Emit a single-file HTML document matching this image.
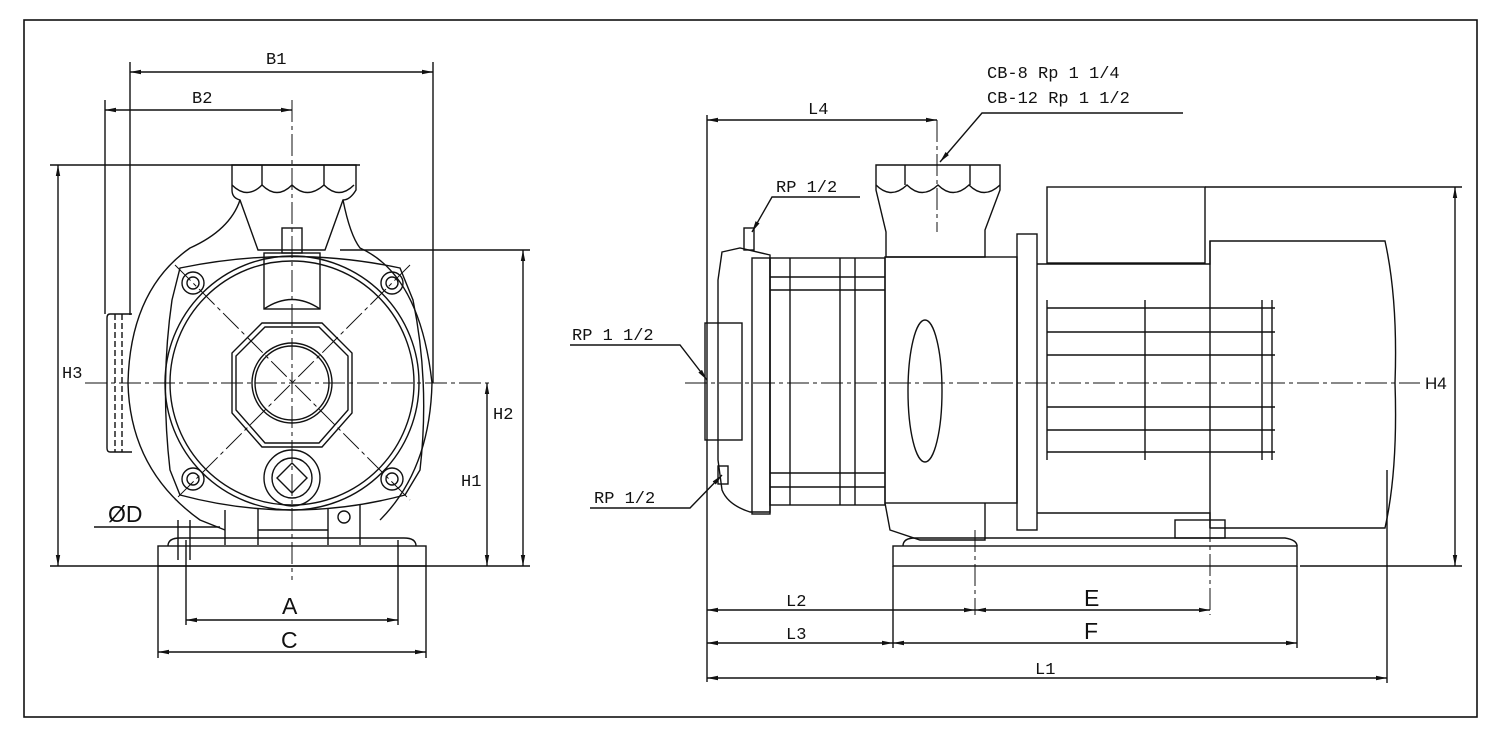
<!DOCTYPE html>
<html><head><meta charset="utf-8"><style>
html,body{margin:0;padding:0;background:#fff}
svg{display:block}
text{font-family:"Liberation Mono",monospace;font-size:17px;fill:#111;stroke:none}
.s{font-family:"Liberation Sans",sans-serif;font-size:23px}
.l{font-family:"Liberation Sans",sans-serif;font-size:17px}
</style></head><body>
<svg width="1500" height="740" viewBox="0 0 1500 740" xmlns="http://www.w3.org/2000/svg" fill="none" stroke="#111" stroke-width="1.4">
<rect x="24" y="20" width="1453" height="697" stroke-width="1.6"/>
<defs><marker id="a" viewBox="0 0 10 10" refX="10" refY="5" markerWidth="8" markerHeight="8" orient="auto-start-reverse"><path d="M0,3 L10,5 L0,7z" fill="#111" stroke="none"/></marker></defs>
<g stroke-dasharray="22,4,4,4" stroke-width="1">
<line x1="85" y1="383" x2="492" y2="383"/><line x1="292" y1="100" x2="292" y2="580"/>
<line x1="175" y1="265" x2="410" y2="500"/><line x1="410" y1="265" x2="175" y2="500"/>
<line x1="685" y1="383" x2="1420" y2="383"/><line x1="937" y1="120" x2="937" y2="232"/>
<line x1="975" y1="530" x2="975" y2="615"/><line x1="1210" y1="520" x2="1210" y2="615"/>
</g>
<!-- LEFT VIEW -->
<path d="M232,165 H356 V190 Q350,200 343,200 L325,250 H258 L240,200 Q232,198 232,190Z"/>
<path d="M232,185 q15,15 30,0 q15,15 30,0 q15,15 32,0 q15,15 30,0"/>
<line x1="262" y1="165" x2="262" y2="185"/><line x1="324" y1="165" x2="324" y2="185"/>
<path d="M240,200 Q230,230 190,248 Q130,290 128,383 Q130,470 200,520 L225,530"/>
<path d="M343,200 Q350,235 360,248 Q420,275 432,383 Q430,470 380,520"/>
<circle cx="292" cy="383" r="127"/><circle cx="292" cy="383" r="122"/>
<path d="M180,268 Q292,245 400,268 L413,300 Q430,383 420,470 L405,495 Q292,525 180,495 L170,470 Q160,383 172,300Z"/>
<rect x="264" y="253" width="56" height="56"/><rect x="282" y="228" width="20" height="25"/>
<path d="M264,309 Q292,290 320,309"/>
<polygon points="262,323 322,323 352,353 352,413 322,447 262,447 232,413 232,353"/>
<polygon points="265,327 319,327 348,356 348,410 319,443 265,443 236,410 236,356"/>
<circle cx="292" cy="383" r="40"/><circle cx="292" cy="383" r="37"/>
<circle cx="292" cy="478" r="28"/><circle cx="292" cy="478" r="20"/>
<polygon points="292,463 307,478 292,493 277,478"/>
<g><circle cx="193" cy="283" r="11"/><circle cx="193" cy="283" r="6"/><circle cx="392" cy="283" r="11"/><circle cx="392" cy="283" r="6"/><circle cx="193" cy="479" r="11"/><circle cx="193" cy="479" r="6"/><circle cx="392" cy="479" r="11"/><circle cx="392" cy="479" r="6"/></g>
<path d="M132,314 H110 Q107,314 107,318 V448 Q107,452 110,452 H132"/><line x1="115" y1="314" x2="115" y2="452" stroke-dasharray="6,3"/><line x1="122" y1="314" x2="122" y2="452" stroke-dasharray="6,3"/>
<path d="M225,510 V545 M258,508 V545 M328,508 V545 M360,505 V545 M258,530 H328"/>
<circle cx="344" cy="517" r="6"/>
<path d="M168,546 Q168,538 180,538 H404 Q416,538 416,546"/>
<rect x="158" y="546" width="268" height="20"/>
<!-- left dims -->
<line x1="130" y1="62" x2="130" y2="315"/><line x1="433" y1="62" x2="433" y2="383"/>
<line x1="105" y1="100" x2="105" y2="314"/>
<line x1="130" y1="72" x2="433" y2="72" marker-start="url(#a)" marker-end="url(#a)"/>
<line x1="105" y1="110" x2="292" y2="110" marker-start="url(#a)" marker-end="url(#a)"/>
<line x1="50" y1="165" x2="360" y2="165"/><line x1="50" y1="566" x2="530" y2="566"/>
<line x1="58" y1="165" x2="58" y2="566" marker-start="url(#a)" marker-end="url(#a)"/>
<line x1="340" y1="250" x2="530" y2="250"/>
<line x1="523" y1="250" x2="523" y2="566" marker-start="url(#a)" marker-end="url(#a)"/>
<line x1="487" y1="383" x2="487" y2="566" marker-start="url(#a)" marker-end="url(#a)"/>
<line x1="186" y1="540" x2="186" y2="625"/><line x1="398" y1="540" x2="398" y2="625"/>
<line x1="158" y1="566" x2="158" y2="658"/><line x1="426" y1="566" x2="426" y2="658"/>
<line x1="186" y1="620" x2="398" y2="620" marker-start="url(#a)" marker-end="url(#a)"/>
<line x1="158" y1="652" x2="426" y2="652" marker-start="url(#a)" marker-end="url(#a)"/>
<line x1="94" y1="527" x2="220" y2="527"/><line x1="178" y1="520" x2="178" y2="560"/><line x1="190" y1="520" x2="190" y2="560"/>
<text x="266" y="64">B1</text><text x="192" y="103">B2</text>
<text x="62" y="378">H3</text><text x="493" y="419">H2</text><text x="461" y="486">H1</text>
<text class="s" x="282" y="614">A</text><text class="s" x="281" y="648">C</text><text class="s" x="108" y="522">ØD</text>
<!-- RIGHT VIEW -->
<path d="M876,165 H1000 V190 L985,230 L985,257 H886 V232 L876,190Z"/>
<path d="M876,185 q15,15 31,0 q15,15 31,0 q15,15 31,0 q15,15 31,0"/>
<line x1="905" y1="165" x2="905" y2="185"/><line x1="970" y1="165" x2="970" y2="185"/>
<path d="M722,252 L740,248 L770,255 V512 L750,512 Q728,505 722,490 L718,460 V280Z"/>
<rect x="705" y="323" width="37" height="117"/>
<rect x="752" y="258" width="18" height="256"/>
<rect x="770" y="258" width="115" height="247"/>
<line x1="770" y1="277" x2="885" y2="277"/><line x1="770" y1="290" x2="885" y2="290"/>
<line x1="770" y1="473" x2="885" y2="473"/><line x1="770" y1="487" x2="885" y2="487"/>
<line x1="790" y1="258" x2="790" y2="505"/><line x1="840" y1="258" x2="840" y2="505"/><line x1="855" y1="258" x2="855" y2="505"/>
<rect x="885" y="257" width="132" height="246"/>
<ellipse cx="925" cy="391" rx="17" ry="71"/>
<path d="M885,503 L890,530 L920,540 H985 V503"/>
<rect x="1017" y="234" width="20" height="296"/>
<rect x="1047" y="187" width="158" height="76"/>
<path d="M1037,264 H1210 V241 H1385 Q1398,300 1395,383 Q1398,470 1385,528 H1210 V513 H1037"/>
<line x1="1210" y1="241" x2="1210" y2="528"/>
<g><line x1="1047" y1="308" x2="1275" y2="308"/><line x1="1047" y1="332" x2="1275" y2="332"/><line x1="1047" y1="355" x2="1275" y2="355"/><line x1="1047" y1="407" x2="1275" y2="407"/><line x1="1047" y1="430" x2="1275" y2="430"/><line x1="1047" y1="452" x2="1275" y2="452"/>
<line x1="1047" y1="300" x2="1047" y2="460"/><line x1="1145" y1="300" x2="1145" y2="460"/><line x1="1262" y1="300" x2="1262" y2="460"/><line x1="1272" y1="300" x2="1272" y2="460"/></g>
<rect x="1175" y="520" width="50" height="18"/>
<path d="M903,546 Q903,538 915,538 H1285 Q1297,540 1297,546"/>
<rect x="893" y="546" width="404" height="20"/>
<rect x="744" y="228" width="10" height="22"/><rect x="718" y="466" width="10" height="18"/>
<!-- right dims -->
<line x1="707" y1="115" x2="707" y2="682"/>
<line x1="707" y1="120" x2="937" y2="120" marker-start="url(#a)" marker-end="url(#a)"/>
<line x1="1205" y1="187" x2="1462" y2="187"/><line x1="1300" y1="566" x2="1462" y2="566"/>
<line x1="1455" y1="187" x2="1455" y2="566" marker-start="url(#a)" marker-end="url(#a)"/>
<line x1="893" y1="566" x2="893" y2="648"/><line x1="1297" y1="566" x2="1297" y2="648"/><line x1="1387" y1="470" x2="1387" y2="683"/>
<line x1="707" y1="610" x2="975" y2="610" marker-start="url(#a)" marker-end="url(#a)"/>
<line x1="975" y1="610" x2="1210" y2="610" marker-start="url(#a)" marker-end="url(#a)"/>
<line x1="707" y1="643" x2="893" y2="643" marker-start="url(#a)" marker-end="url(#a)"/>
<line x1="893" y1="643" x2="1297" y2="643" marker-start="url(#a)" marker-end="url(#a)"/>
<line x1="707" y1="678" x2="1387" y2="678" marker-start="url(#a)" marker-end="url(#a)"/>
<polyline points="1183,113 982,113 940,162" marker-end="url(#a)"/>
<polyline points="860,197 772,197 752,232" marker-end="url(#a)"/>
<polyline points="570,345 680,345 707,380" marker-end="url(#a)"/>
<polyline points="590,508 690,508 722,475" marker-end="url(#a)"/>
<text x="987" y="78">CB-8 Rp 1 1/4</text><text x="987" y="103">CB-12 Rp 1 1/2</text>
<text x="808" y="114">L4</text><text x="776" y="192">RP 1/2</text>
<text x="572" y="340">RP 1 1/2</text><text x="594" y="503">RP 1/2</text>
<text class="l" x="1425" y="389">H4</text>
<text x="786" y="606">L2</text><text x="786" y="639">L3</text><text x="1035" y="674">L1</text>
<text class="s" x="1084" y="606">E</text><text class="s" x="1084" y="639">F</text>
</svg>
</body></html>
